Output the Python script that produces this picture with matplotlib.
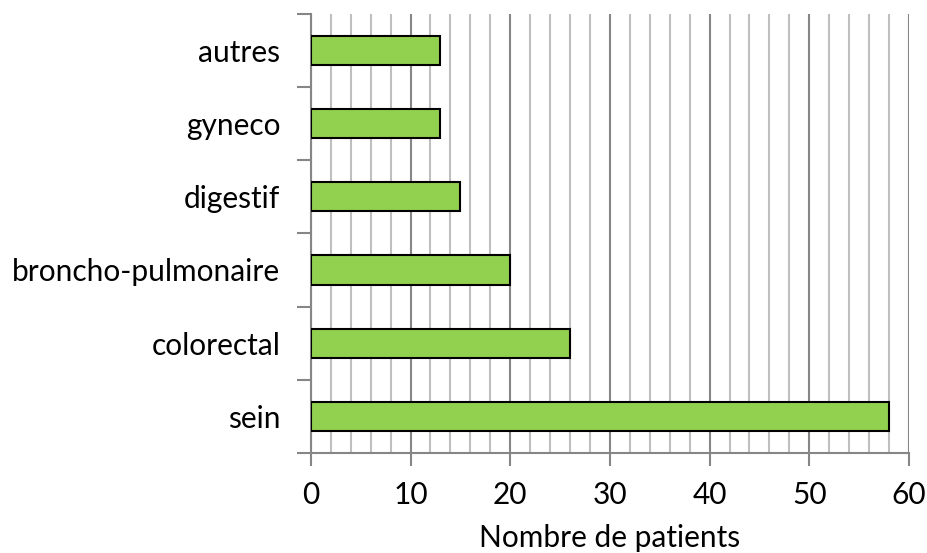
import matplotlib
matplotlib.use('Agg')
import matplotlib.pyplot as plt
import numpy as np

#donnees
categories = ['sein', 'colorectal', 'broncho-pulmonaire', 'digestif', 'gyneco', 'autres']
patients = [58, 26, 20, 15, 13, 13]
xticks = [0, 10, 20, 30, 40, 50, 60]

plt.rcParams['font.family'] = ['Lato', 'DejaVu Sans']

fig = plt.figure(figsize=(9.28, 5.53), dpi=100)
ax = fig.add_axes([0.335, 0.181, 0.6445, 0.794])

pos = np.arange(len(categories))
ax.barh(pos, patients, height=0.4, color='#92D050', edgecolor='black', linewidth=1.5, zorder=3)

ax.set_xlim(0, 60)
ax.set_ylim(-0.5, len(categories) - 0.5)

#grille verticale : majeure tous les 10, mineure tous les 2
ax.set_xticks(xticks)
ax.set_xticks(np.arange(0, 61, 2), minor=True)
ax.grid(axis='x', which='major', color='#868686', linewidth=1.5, zorder=0)
ax.grid(axis='x', which='minor', color='#bfbfbf', linewidth=1.5, zorder=0)
ax.tick_params(axis='x', which='minor', length=0)
ax.tick_params(axis='x', which='major', length=9, width=1.5, color='#868686', labelsize=21.5, pad=11)

#graduations de l'axe y entre les categories
ax.set_yticks(pos)
ax.set_yticklabels(categories)
ax.set_yticks(np.arange(-0.5, len(categories), 1), minor=True)
ax.tick_params(axis='y', which='major', length=0, labelsize=21.5, pad=22)
ax.tick_params(axis='y', which='minor', length=10, width=1.5, color='#868686')

for s in ['top', 'right']:
    ax.spines[s].set_visible(False)
for s in ['left', 'bottom']:
    ax.spines[s].set_color('#868686')
    ax.spines[s].set_linewidth(1.5)

ax.set_xlabel('Nombre de patients', fontsize=21.5, labelpad=11)

fig.savefig('out.png', dpi=100)
